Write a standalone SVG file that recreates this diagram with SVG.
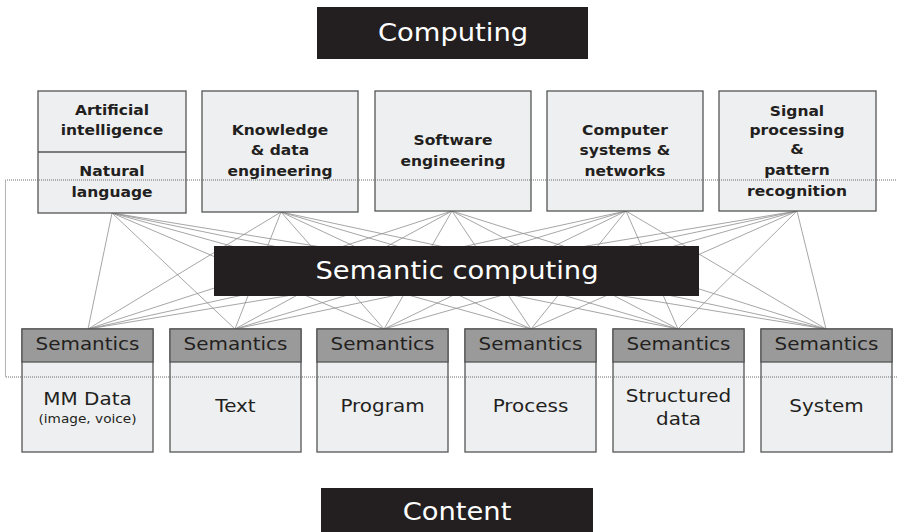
<svg xmlns="http://www.w3.org/2000/svg" width="897" height="532" viewBox="0 0 897 532">
  <style>
    .dark { fill: #231f20; }
    .box { fill: #eeeff1; stroke: #555; stroke-width: 1.3; }
    .head { fill: #9a9a9a; stroke: #555; stroke-width: 1.3; }
    .title { font-family: "DejaVu Sans", Verdana, sans-serif; font-size: 24px; fill: #ffffff; text-anchor: middle; }
    .lbl { font-family: "DejaVu Sans", Verdana, sans-serif; font-size: 13.6px; font-weight: bold; fill: #231f20; text-anchor: middle; }
    .sem { font-family: "DejaVu Sans", Verdana, sans-serif; font-size: 17.5px; fill: #231f20; text-anchor: middle; }
    .small { font-family: "DejaVu Sans", Verdana, sans-serif; font-size: 12px; fill: #231f20; text-anchor: middle; }
    .link { stroke: #8f8f8f; stroke-width: 0.8; fill: none; }
    .scope { fill: none; stroke: #6a6a6a; stroke-width: 1; stroke-dasharray: 1 1; }
  </style>

  <!-- Connectors: every field (top) linked to every content semantics (bottom) -->
  <g id="connectors" class="link">
    <path d="M112 213L88 329M112 213L235 329M112 213L384 329M112 213L531 329M112 213L678 329M112 213L826 329"/>
    <path d="M281 212L88 329M281 212L235 329M281 212L384 329M281 212L531 329M281 212L678 329M281 212L826 329"/>
    <path d="M452 211L88 329M452 211L235 329M452 211L384 329M452 211L531 329M452 211L678 329M452 211L826 329"/>
    <path d="M626 211L88 329M626 211L235 329M626 211L384 329M626 211L531 329M626 211L678 329M626 211L826 329"/>
    <path d="M797 211L88 329M797 211L235 329M797 211L384 329M797 211L531 329M797 211L678 329M797 211L826 329"/>
  </g>

  <g id="computing">
    <rect class="dark" x="317" y="7" width="271" height="52"/>
    <text class="title" transform="translate(453 41) scale(1.14 1)">Computing</text>
  </g>

  <g id="semantic-computing">
    <rect class="dark" x="214" y="246" width="485" height="50"/>
    <text class="title" transform="translate(457 279) scale(1.14 1)">Semantic computing</text>
  </g>

  <g id="content">
    <rect class="dark" x="321" y="488" width="272" height="50"/>
    <text class="title" transform="translate(457 520) scale(1.14 1)">Content</text>
  </g>

  <!-- Computing fields -->
  <g id="ai-nl">
    <rect class="box" x="38" y="91" width="148" height="122"/>
    <line x1="38" y1="152" x2="186" y2="152" stroke="#555" stroke-width="1.3"/>
    <text class="lbl" transform="translate(112 115) scale(1.14 1)">Artificial</text>
    <text class="lbl" transform="translate(112 135) scale(1.14 1)">intelligence</text>
    <text class="lbl" transform="translate(112 176) scale(1.14 1)">Natural</text>
    <text class="lbl" transform="translate(112 197) scale(1.14 1)">language</text>
  </g>
  <g id="knowledge">
    <rect class="box" x="202" y="91" width="156" height="121"/>
    <text class="lbl" transform="translate(280 135) scale(1.14 1)">Knowledge</text>
    <text class="lbl" transform="translate(280 155) scale(1.14 1)">&amp; data</text>
    <text class="lbl" transform="translate(280 176) scale(1.14 1)">engineering</text>
  </g>
  <g id="software">
    <rect class="box" x="375" y="91" width="156" height="120"/>
    <text class="lbl" transform="translate(453 145) scale(1.14 1)">Software</text>
    <text class="lbl" transform="translate(453 166) scale(1.14 1)">engineering</text>
  </g>
  <g id="systems">
    <rect class="box" x="547" y="91" width="156" height="120"/>
    <text class="lbl" transform="translate(625 135) scale(1.14 1)">Computer</text>
    <text class="lbl" transform="translate(625 155) scale(1.14 1)">systems &amp;</text>
    <text class="lbl" transform="translate(625 176) scale(1.14 1)">networks</text>
  </g>
  <g id="signal">
    <rect class="box" x="719" y="91" width="157" height="120"/>
    <text class="lbl" transform="translate(797 116) scale(1.14 1)">Signal</text>
    <text class="lbl" transform="translate(797 135) scale(1.14 1)">processing</text>
    <text class="lbl" transform="translate(797 154) scale(1.14 1)">&amp;</text>
    <text class="lbl" transform="translate(797 175) scale(1.14 1)">pattern</text>
    <text class="lbl" transform="translate(797 196) scale(1.14 1)">recognition</text>
  </g>

  <!-- Content kinds -->
  <g id="mm-data">
    <rect class="box" x="22" y="329" width="131" height="123"/>
    <rect class="head" x="22" y="329" width="131" height="33"/>
    <text class="sem" transform="translate(87.5 350) scale(1.14 1)">Semantics</text>
    <text class="sem" transform="translate(87.5 405) scale(1.14 1)">MM Data</text>
    <text class="small" transform="translate(87.5 423) scale(1.14 1)">(image, voice)</text>
  </g>
  <g id="text">
    <rect class="box" x="170" y="329" width="131" height="123"/>
    <rect class="head" x="170" y="329" width="131" height="33"/>
    <text class="sem" transform="translate(235.5 350) scale(1.14 1)">Semantics</text>
    <text class="sem" transform="translate(235.5 412) scale(1.14 1)">Text</text>
  </g>
  <g id="program">
    <rect class="box" x="317" y="329" width="131" height="123"/>
    <rect class="head" x="317" y="329" width="131" height="33"/>
    <text class="sem" transform="translate(382.5 350) scale(1.14 1)">Semantics</text>
    <text class="sem" transform="translate(382.5 412) scale(1.14 1)">Program</text>
  </g>
  <g id="process">
    <rect class="box" x="465" y="329" width="131" height="123"/>
    <rect class="head" x="465" y="329" width="131" height="33"/>
    <text class="sem" transform="translate(530.5 350) scale(1.14 1)">Semantics</text>
    <text class="sem" transform="translate(530.5 412) scale(1.14 1)">Process</text>
  </g>
  <g id="structured-data">
    <rect class="box" x="613" y="329" width="131" height="123"/>
    <rect class="head" x="613" y="329" width="131" height="33"/>
    <text class="sem" transform="translate(678.5 350) scale(1.14 1)">Semantics</text>
    <text class="sem" transform="translate(678.5 402) scale(1.14 1)">Structured</text>
    <text class="sem" transform="translate(678.5 425) scale(1.14 1)">data</text>
  </g>
  <g id="system">
    <rect class="box" x="761" y="329" width="131" height="123"/>
    <rect class="head" x="761" y="329" width="131" height="33"/>
    <text class="sem" transform="translate(826.5 350) scale(1.14 1)">Semantics</text>
    <text class="sem" transform="translate(826.5 412) scale(1.14 1)">System</text>
  </g>

  <!-- Dotted scope of semantic computing -->
  <path class="scope" d="M900 180H5.5V377H900"/>
</svg>
